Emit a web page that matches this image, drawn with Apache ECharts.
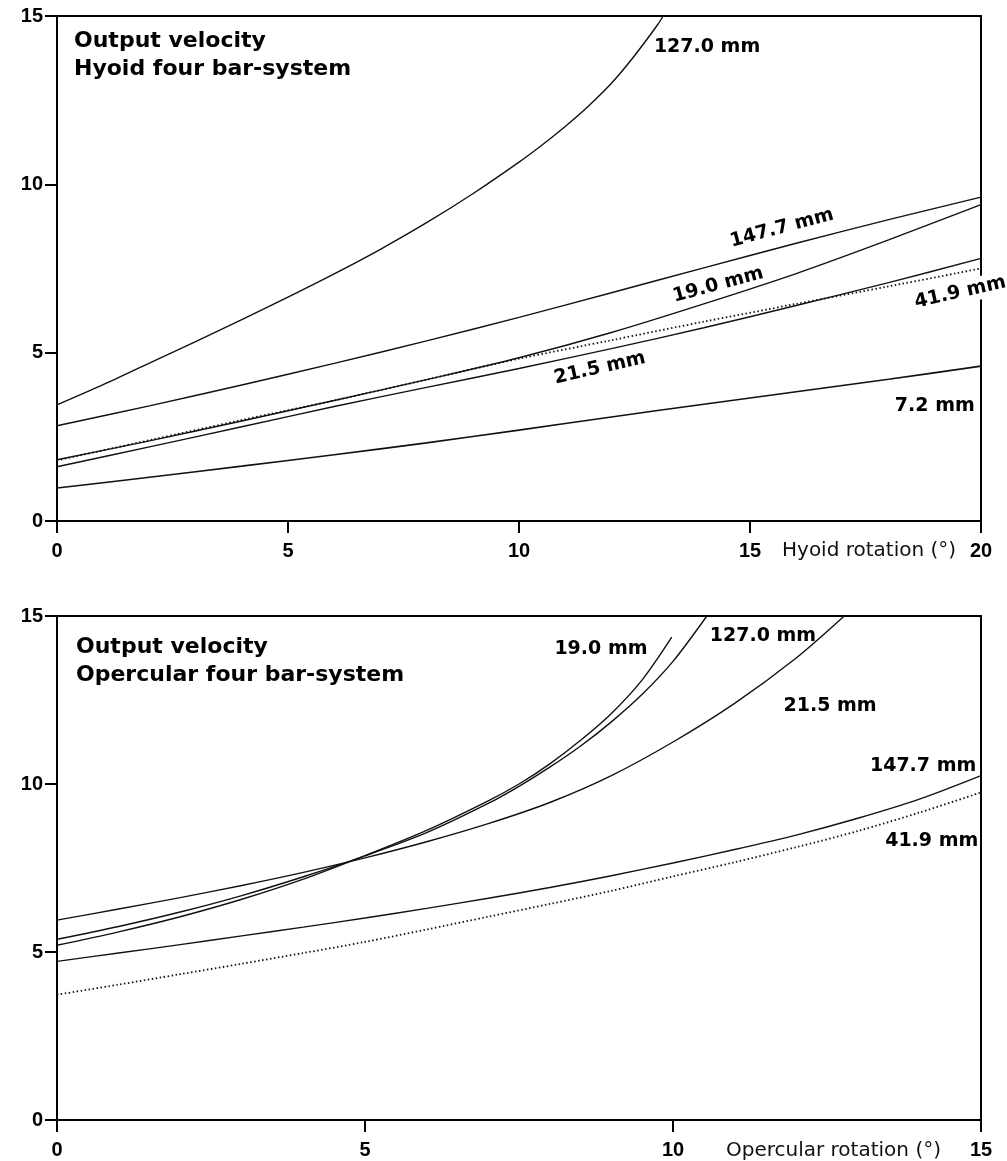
<!DOCTYPE html>
<html><head><meta charset="utf-8">
<script src="https://cdn.jsdelivr.net/npm/echarts@6/dist/echarts.min.js"></script>
<style>html,body{margin:0;padding:0;background:#fff}#c{width:1007px;height:1161px}</style>
</head><body><div id="c"></div>
<script>
// ---------------- Data ----------------
const hyoidXTicks = [0, 5, 10, 15, 20];
const opercXTicks = [0, 5, 10, 15];
const yTicks = [0, 5, 10, 15];

const hyoidTitle = 'Output velocity\nHyoid four bar-system';
const opercTitle = 'Output velocity\nOpercular four bar-system';
const hyoidXName = 'Hyoid rotation (°)';
const opercXName = 'Opercular rotation (°)';

// Hyoid four bar-system: [rotation (deg), output velocity]
const hyoid127_0 = [[0,3.45],[1,4.05],[2,4.69],[3,5.33],[4,5.98],[5,6.65],[6,7.34],[7,8.07],[8,8.86],[9,9.72],[10,10.66],[10.5,11.17],[11,11.72],[11.5,12.32],[12,13.0],[12.5,13.82],[13,14.74],[13.12,15]];
const hyoid147_7 = [[0,2.83],[2,3.42],[4,4.04],[6,4.68],[8,5.35],[10,6.05],[12,6.78],[14,7.52],[16,8.25],[18,8.95],[20,9.62]];
const hyoid19_0 = [[0,1.82],[2,2.38],[4,2.97],[6,3.58],[8,4.2],[10,4.85],[12,5.6],[14,6.45],[16,7.35],[18,8.35],[20,9.4]];
const hyoid21_5 = [[0,1.61],[2,2.2],[4,2.8],[6,3.4],[8,3.97],[10,4.53],[12,5.12],[14,5.74],[16,6.4],[18,7.08],[20,7.8]];
const hyoid41_9 = [[0,1.8],[2,2.4],[4,3.0],[6,3.58],[8,4.2],[10,4.82],[12,5.37],[14,5.92],[16,6.45],[18,6.97],[20,7.5]];
const hyoid7_2 = [[0,0.98],[2,1.3],[4,1.63],[6,1.97],[8,2.32],[10,2.7],[12,3.09],[14,3.47],[16,3.84],[18,4.21],[20,4.6]];

// Opercular four bar-system: [rotation (deg), output velocity]
const operc19_0 = [[0,5.2],[1,5.6],[2,6.05],[3,6.57],[4,7.17],[5,7.87],[6,8.62],[7,9.5],[7.5,10.0],[8,10.6],[8.5,11.3],[9,12.1],[9.5,13.1],[9.98,14.37]];
const operc127_0 = [[0,5.38],[1,5.76],[2,6.19],[3,6.68],[4,7.24],[5,7.86],[6,8.55],[7,9.42],[7.5,9.93],[8,10.5],[8.5,11.13],[9,11.85],[9.5,12.67],[10,13.65],[10.55,15]];
const operc21_5 = [[0,5.95],[1,6.28],[2,6.62],[3,6.98],[4,7.37],[5,7.8],[6,8.28],[7,8.82],[8,9.45],[9,10.25],[10,11.25],[11,12.4],[12,13.75],[12.78,15]];
const operc147_7 = [[0,4.72],[1,4.97],[2,5.22],[3,5.48],[4,5.74],[5,6.01],[6,6.3],[7,6.6],[8,6.92],[9,7.27],[10,7.65],[11,8.05],[12,8.48],[13,8.98],[14,9.55],[15,10.25]];
const operc41_9 = [[0,3.73],[1,4.03],[2,4.34],[3,4.65],[4,4.97],[5,5.3],[6,5.67],[7,6.05],[8,6.43],[9,6.82],[10,7.25],[11,7.67],[12,8.12],[13,8.6],[14,9.15],[15,9.75]];

// curve label texts
const hyoidLabelText = ['127.0 mm', '147.7 mm', '19.0 mm', '41.9 mm', '21.5 mm', '7.2 mm'];
const opercLabelText = ['19.0 mm', '127.0 mm', '21.5 mm', '147.7 mm', '41.9 mm'];

// ---------------- Chart ----------------
const chart = echarts.init(document.getElementById('c'), null, {renderer: 'canvas'});

const tickFont = {fontFamily: 'Liberation Sans', fontWeight: 'bold', fontSize: 20, color: '#000'};

function xAxisFor(grid, ticks) {
  return {
    type: 'value', gridIndex: grid,
    min: ticks[0], max: ticks[ticks.length - 1], interval: ticks[1] - ticks[0],
    axisLine: {show: true, onZero: false, lineStyle: {color: '#000', width: 2}},
    axisTick: {show: true, length: 12, lineStyle: {color: '#000', width: 2}},
    axisLabel: Object.assign({margin: 20}, tickFont),
    splitLine: {show: false}
  };
}
function yAxisFor(grid) {
  return {
    type: 'value', gridIndex: grid,
    min: yTicks[0], max: yTicks[yTicks.length - 1], interval: yTicks[1] - yTicks[0],
    axisLine: {show: true, onZero: false, lineStyle: {color: '#000', width: 2}},
    axisTick: {show: true, length: 12, lineStyle: {color: '#000', width: 2}},
    axisLabel: Object.assign({margin: 14}, tickFont),
    splitLine: {show: false}
  };
}
function curve(data, idx, dotted, width) {
  return {
    type: 'line', xAxisIndex: idx, yAxisIndex: idx, data: data,
    smooth: 0.3, showSymbol: false, symbol: 'none', silent: true, clip: true,
    lineStyle: dotted ? {color: '#111', width: 1.8, type: [1.5, 2.5]}
                      : {color: '#111', width: width || 1.4},
    z: 3
  };
}

const baseGraphics = [
  {type: 'text', left: 74, top: 27, z: 20, style: {text: hyoidTitle, font: 'bold 22px "DejaVu Sans"', lineHeight: 28, fill: '#000'}},
  {type: 'text', left: 76, top: 633, z: 20, style: {text: opercTitle, font: 'bold 22px "DejaVu Sans"', lineHeight: 28, fill: '#000'}},
  {type: 'text', x: 782, y: 551, z: 20, style: {text: hyoidXName, font: '20px "DejaVu Sans"', fill: '#111', verticalAlign: 'middle'}},
  {type: 'text', x: 726, y: 1151, z: 20, style: {text: opercXName, font: '20px "DejaVu Sans"', fill: '#111', verticalAlign: 'middle'}}
];

const option = {
  animation: false,
  backgroundColor: '#fff',
  grid: [
    {left: 57, right: 26, top: 16, height: 505, show: true, borderColor: '#000', borderWidth: 2},
    {left: 57, right: 26, top: 616, height: 504, show: true, borderColor: '#000', borderWidth: 2}
  ],
  xAxis: [xAxisFor(0, hyoidXTicks), xAxisFor(1, opercXTicks)],
  yAxis: [yAxisFor(0), yAxisFor(1)],
  series: [
    curve(hyoid127_0, 0), curve(hyoid147_7, 0), curve(hyoid19_0, 0),
    curve(hyoid21_5, 0), curve(hyoid41_9, 0, true), curve(hyoid7_2, 0, false, 1.6),
    curve(operc19_0, 1), curve(operc127_0, 1), curve(operc21_5, 1),
    curve(operc147_7, 1), curve(operc41_9, 1, true)
  ],
  graphic: baseGraphics
};
chart.setOption(option);

// curve labels anchored in data coordinates (x, y, angle in degrees, white background)
const hyoidLabelPlace = [[14.07, 14.08, 0, 0], [15.69, 8.70, 15, 0], [14.31, 7.01, 15, 0], [19.55, 6.79, 13, 1], [11.75, 4.54, 13, 0], [19.0, 3.42, 0, 0]];
const opercLabelPlace = [[8.83, 14.02, 0, 0], [11.46, 14.4, 0, 0], [12.55, 12.32, 0, 0], [14.06, 10.54, 0, 0], [14.2, 8.3, 0, 0]];
function labelGraphics(gridIndex, texts, place) {
  return texts.map((t, i) => {
    const p = chart.convertToPixel({gridIndex: gridIndex}, [place[i][0], place[i][1]]);
    return {
      type: 'text', x: p[0], y: p[1], rotation: place[i][2] * Math.PI / 180, z: 30,
      style: {
        text: t, font: 'bold 19px "DejaVu Sans"', fill: '#000', align: 'center', verticalAlign: 'middle',
        backgroundColor: place[i][3] ? '#fff' : null, padding: place[i][3] ? [2, 2] : 0
      }
    };
  });
}
chart.setOption({
  graphic: baseGraphics.concat(labelGraphics(0, hyoidLabelText, hyoidLabelPlace), labelGraphics(1, opercLabelText, opercLabelPlace))
});
</script>
</body></html>
